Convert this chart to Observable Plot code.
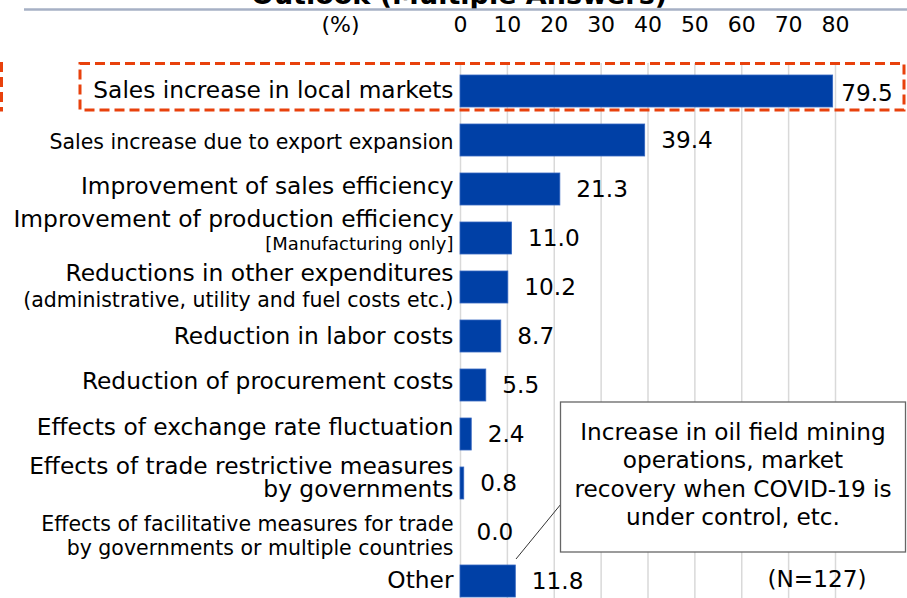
<!DOCTYPE html>
<html>
<head>
<meta charset="utf-8">
<script src="https://cdn.jsdelivr.net/npm/d3@7"></script>
<script src="https://cdn.jsdelivr.net/npm/@observablehq/plot@0.6"></script>
<style>
  html, body { margin: 0; padding: 0; background: #fff; }
  #wrap { position: relative; width: 907px; height: 598px; overflow: hidden; font-family: "DejaVu Sans", Verdana, sans-serif; }
  #overlay { position: absolute; left: 0; top: 0; pointer-events: none; }
</style>
</head>
<body>
<div id="wrap">
  <div id="chart"></div>
  <svg id="overlay" width="907" height="598" font-family="DejaVu Sans, Verdana, sans-serif">
    <text x="459" y="3.5" text-anchor="middle" font-weight="bold" font-size="27" fill="#000">Outlook (Multiple Answers)</text>
    <line x1="24" x2="907" y1="9.5" y2="9.5" stroke="#a6b0c5" stroke-width="2.5"/>
    <rect x="-60" y="63.5" width="61.5" height="46.5" fill="none" stroke="#e8410c" stroke-width="3" stroke-dasharray="10 5"/>
    <rect x="80" y="63.5" width="824" height="46.5" fill="none" stroke="#e8410c" stroke-width="3" stroke-dasharray="10 5"/>
    <line x1="516" y1="559" x2="561" y2="504" stroke="#333" stroke-width="1"/>
    <rect x="560.5" y="402" width="345" height="150" fill="#fff" stroke="#666" stroke-width="1.3"/>
    <g font-size="23.2" fill="#000" text-anchor="middle">
      <text x="733" y="440">Increase in oil field mining</text>
      <text x="733" y="468.3">operations, market</text>
      <text x="733" y="496.7">recovery when COVID-19 is</text>
      <text x="733" y="525">under control, etc.</text>
      <text x="817" y="586.7">(N=127)</text>
    </g>
  </svg>
</div>
<script>
// ---- data ----
const categories = [
  "Sales increase in local markets",
  "Sales increase due to export expansion",
  "Improvement of sales efficiency",
  "Improvement of production efficiency",
  "Reductions in other expenditures",
  "Reduction in labor costs",
  "Reduction of procurement costs",
  "Effects of exchange rate fluctuation",
  "Effects of trade restrictive measures",
  "Effects of facilitative measures for trade",
  "Other"
];
const subLabels = [
  "", "", "", "[Manufacturing only]",
  "(administrative, utility and fuel costs etc.)",
  "", "", "", "by governments",
  "by governments or multiple countries", ""
];
const values = [79.5, 39.4, 21.3, 11.0, 10.2, 8.7, 5.5, 2.4, 0.8, 0.0, 11.8];
const xTicks = [0, 10, 20, 30, 40, 50, 60, 70, 80];

// ---- label layout (style, not data) ----
const M = 23.3;
const labelLayout = [
  {s1: M,    d1: -1.2},
  {s1: 20.5, d1: 1.7},
  {s1: M,    d1: -2.5},
  {s1: 23.4, d1: -19.4, s2: 18,   d2: 5.5},
  {s1: 23.4, d1: -13.7, s2: 20.5, d2: 12.5},
  {s1: M,    d1: 0.5},
  {s1: M,    d1: -3.7},
  {s1: M,    d1: -7},
  {s1: M,    d1: -17,   s2: M,    d2: 6.3},
  {s1: 20.5, d1: -7.8,  s2: 20.5, d2: 15.8},
  {s1: M,    d1: -0.5}
];

const rows = categories.map((c, i) => ({cat: c, sub: subLabels[i], value: values[i]}));

const labelMarks = [];
rows.forEach((r, i) => {
  const L = labelLayout[i];
  labelMarks.push(Plot.text([r], {
    y: "cat", text: "cat", frameAnchor: "left", textAnchor: "end",
    dx: -7, dy: L.d1, fontSize: L.s1, lineAnchor: "middle", fill: "#000"
  }));
  if (r.sub) {
    labelMarks.push(Plot.text([r], {
      y: "cat", text: "sub", frameAnchor: "left", textAnchor: "end",
      dx: -7, dy: L.d2, fontSize: L.s2, lineAnchor: "middle", fill: "#000"
    }));
  }
});

const chart = Plot.plot({
  width: 907,
  height: 598,
  marginLeft: 460,
  marginRight: 72,
  marginTop: 63,
  marginBottom: 0,
  style: {fontFamily: "DejaVu Sans, Verdana, sans-serif", fontSize: "23px", color: "#000", background: "transparent", overflow: "visible"},
  x: {domain: [0, 80], axis: null},
  y: {domain: categories, range: [66, 605], paddingInner: 0.347, paddingOuter: 0.1735, axis: null},
  marks: [
    Plot.ruleX(xTicks, {x: d => d, stroke: "#d9d9d9", strokeWidth: 1.5}),
    Plot.barX(rows, {x: "value", y: "cat", fill: "#0040a6", stroke: "#3566c0", strokeWidth: 0.8}),
    Plot.text(xTicks, {x: d => d, frameAnchor: "top", dy: -38.5, lineAnchor: "middle", text: d => String(d), fontSize: 22, fill: "#000"}),
    Plot.text(["(%)"], {frameAnchor: "top-left", dx: -120, dy: -38.5, lineAnchor: "middle", text: d => d, fontSize: 22, fill: "#000", textAnchor: "middle"}),
    Plot.text(rows.slice(0, 1), {x: "value", y: "cat", text: d => d.value.toFixed(1), textAnchor: "start", dx: 8, dy: 2, fontSize: 23.2, lineAnchor: "middle", fill: "#000"}),
    Plot.text(rows.slice(1), {x: "value", y: "cat", text: d => d.value.toFixed(1), textAnchor: "start", dx: 16, fontSize: 23.2, lineAnchor: "middle", fill: "#000"}),
    ...labelMarks
  ]
});
document.getElementById("chart").appendChild(chart);
</script>
</body>
</html>
